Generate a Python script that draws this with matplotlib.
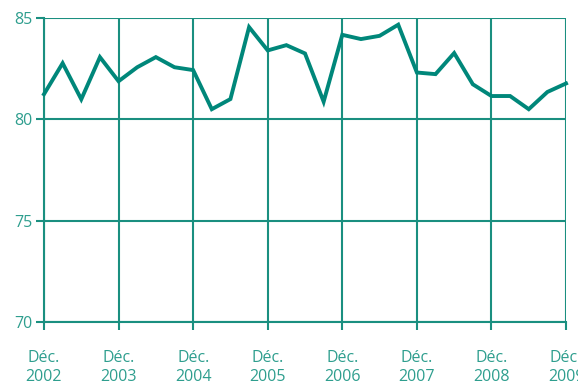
import matplotlib.pyplot as plt

# Quarterly values, Dec 2002 to Dec 2009
quarters = list(range(29))
values = [81.24, 82.77, 80.99, 83.07, 81.88, 82.57, 83.07, 82.57, 82.43,
          80.50, 81.00, 84.55, 83.40, 83.66, 83.25, 80.87, 84.17, 83.96,
          84.12, 84.67, 82.31, 82.23, 83.27, 81.73, 81.15, 81.15, 80.50,
          81.35, 81.77]
tick_pos = [0, 4, 8, 12, 16, 20, 24, 28]
tick_labels = ["Déc.\n2002", "Déc.\n2003", "Déc.\n2004", "Déc.\n2005",
               "Déc.\n2006", "Déc.\n2007", "Déc.\n2008", "Déc.\n2009"]
y_ticks = [70, 75, 80, 85]

line_color = "#00877a"
grid_color = "#1a8f80"
text_color = "#2e9e8e"

plt.rcParams["font.family"] = ["Open Sans", "DejaVu Sans"]

fig = plt.figure(figsize=(5.78, 3.83), dpi=100)
ax = fig.add_axes([0.0761, 0.1593, 0.9032, 0.7937])

ax.plot(quarters, values, color=line_color, linewidth=2.8, solid_joinstyle="miter",
        zorder=3, clip_on=False)

ax.set_xlim(0, 28)
ax.set_ylim(70, 85)
ax.set_xticks(tick_pos)
ax.set_xticklabels(tick_labels, linespacing=1.3)
ax.set_yticks(y_ticks)

for s in ["top", "right"]:
    ax.spines[s].set_visible(False)
for s in ["left", "bottom"]:
    ax.spines[s].set_color(grid_color)
    ax.spines[s].set_linewidth(1.5)

ax.grid(True, color=grid_color, linewidth=1.5)
ax.set_axisbelow(True)
ax.tick_params(colors=grid_color, width=1.5, length=6, labelcolor=text_color,
               labelsize=11.5)
ax.tick_params(axis="x", pad=14)
ax.tick_params(axis="y", pad=2)
for t in ax.get_xticklabels():
    t.set_clip_on(False)

fig.savefig("out.png", dpi=100)
